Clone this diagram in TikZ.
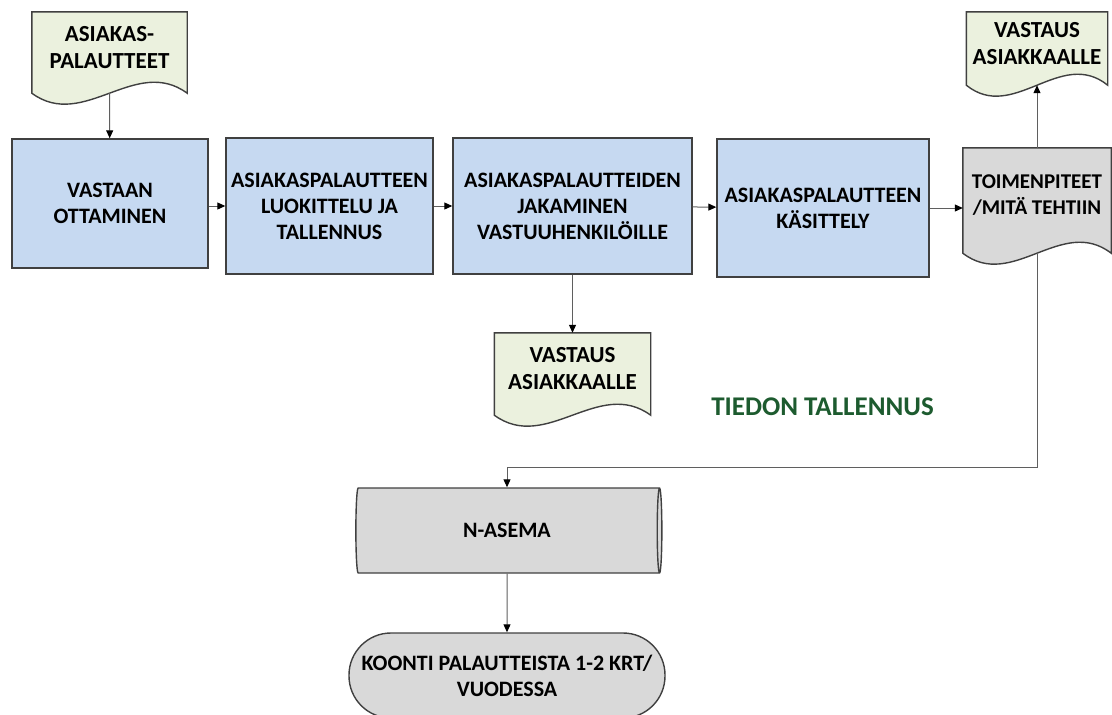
\documentclass[tikz,border=0pt]{standalone}
\usepackage{fontspec}
\setmainfont{Carlito}
\usetikzlibrary{arrows.meta,shapes.geometric,calc,backgrounds}
\definecolor{BoxBlue}{HTML}{C6D9F1}
\definecolor{DocGreen}{HTML}{EBF1DE}
\definecolor{StoreGray}{HTML}{D9D9D9}
\definecolor{EdgeGray}{HTML}{404040}
\definecolor{LineGray}{HTML}{5F5F5F}
\definecolor{TitleGreen}{HTML}{1D5B2F}

\tikzset{
  procbox/.style={draw=EdgeGray,line width=1.4pt,fill=BoxBlue,align=center,inner sep=2pt},
  docbox/.style={align=center,inner sep=2pt},
  greendoc/.style={docbox,font=\fontsize{23}{27}\selectfont\bfseries},
  storebox/.style={draw=EdgeGray,line width=1.4pt,fill=StoreGray,align=center,inner sep=2pt},
  arr/.style={LineGray,line width=1pt,-{Triangle[length=8pt,width=7pt,black]}},
}
% document symbol: straight sides, wavy bottom edge
\newcommand{\docshape}[2]{%
  \begin{scope}[on background layer]
  \draw[draw=EdgeGray,line width=1.4pt,fill=#2]
    ($(#1.south west)+(0,10)$) -- (#1.north west) -- (#1.north east) -- ($(#1.south east)+(0,10)$)
    .. controls ($(#1.south east)!1/3!(#1.south west)+(0,-28)$) and ($(#1.south east)!2/3!(#1.south west)+(0,48)$)
    .. ($(#1.south west)+(0,10)$) -- cycle;
  \end{scope}
  \coordinate (#1-b) at ($(#1.south)+(0,10)$);
}

\begin{document}
\begin{tikzpicture}[x=1pt,y=-1pt,font=\fontsize{22}{26}\selectfont\bfseries]
  \useasboundingbox (0,0) rectangle (1112,715);

  \node[greendoc,minimum width=155pt,minimum height=71pt] (asi) at (109.5,47.5) {ASIAKAS-\\PALAUTTEET};
  \docshape{asi}{DocGreen}

  \node[procbox,minimum width=196pt,minimum height=129pt] (vas) at (110,203.5) {VASTAAN\\OTTAMINEN};
  \node[procbox,minimum width=207pt,minimum height=136pt] (luo) at (329.5,206) {ASIAKASPALAUTTEEN\\LUOKITTELU JA\\TALLENNUS};
  \node[procbox,minimum width=239pt,minimum height=136pt] (jak) at (572.5,206) {ASIAKASPALAUTTEIDEN\\JAKAMINEN\\VASTUUHENKILÖILLE};
  \node[procbox,minimum width=212pt,minimum height=138pt] (kas) at (823,208) {ASIAKASPALAUTTEEN\\KÄSITTELY};

  \node[docbox,font=\fontsize{21}{26}\selectfont\bfseries,minimum width=148pt,minimum height=95pt] (toi) at (1037,195.5) {TOIMENPITEET\\/MITÄ TEHTIIN};
  \docshape{toi}{StoreGray}
  \node[greendoc,minimum width=141pt,minimum height=63pt] (vt) at (1037,43.5) {VASTAUS\\ASIAKKAALLE};
  \docshape{vt}{DocGreen}
  \node[greendoc,minimum width=156pt,minimum height=72pt] (vm) at (572.5,369) {VASTAUS\\ASIAKKAALLE};
  \docshape{vm}{DocGreen}

  \node[TitleGreen,font=\fontsize{27}{32}\selectfont\bfseries] (tal) at (822.5,407) {TIEDON TALLENNUS};

  \node[storebox,cylinder,aspect=0.25,minimum width=85pt,minimum height=306pt] (nas) at (507,530.5) {N-ASEMA};
  \node[storebox,rounded corners=42pt,minimum width=316pt,minimum height=85pt] (koo) at (507,675.5) {KOONTI PALAUTTEISTA 1-2 KRT/\\VUODESSA};

  \coordinate (bend) at (1037,467);

  \draw[arr] (asi-b) -- (vas);
  \draw[arr] (vas.east |- luo) -- (luo);
  \draw[arr] (luo) -- (jak);
  \draw[arr] (jak) -- (kas);
  \draw[arr] (kas) -- (kas -| toi.west);
  \draw[arr] (toi.north) -- (vt-b);
  \draw[arr] (jak) -- (vm);
  \draw[arr] (toi-b) -- (bend) -| (nas.north);
  \draw[arr] (nas) -- (koo);
\end{tikzpicture}
\end{document}
